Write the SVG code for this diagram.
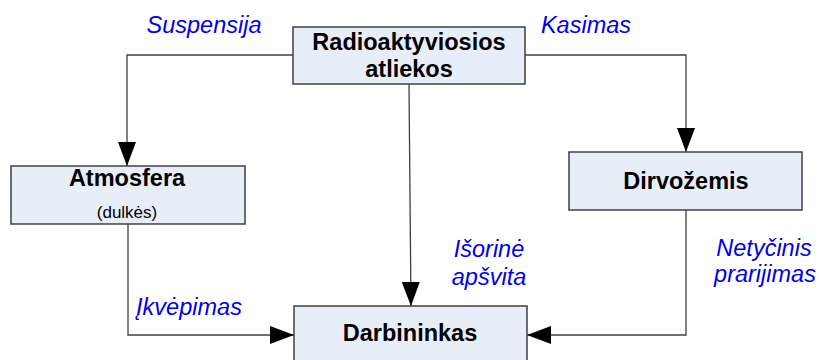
<svg xmlns="http://www.w3.org/2000/svg" width="819" height="360" viewBox="0 0 819 360">
<style>
.box{fill:#E8EEF8;stroke:#404040;stroke-width:1.5}
.t{font-family:"Liberation Sans",Arial,sans-serif;font-weight:bold;font-size:23.5px;fill:#000;text-anchor:middle}
.s{font-family:"Liberation Sans",Arial,sans-serif;font-size:17px;fill:#000;text-anchor:middle}
.l{font-family:"Liberation Sans",Arial,sans-serif;font-style:italic;font-size:23.5px;fill:#0000EE;text-anchor:middle}
.c{fill:none;stroke:#404040;stroke-width:1.3}
</style>
<defs>
<marker id="a" markerUnits="userSpaceOnUse" markerWidth="24" markerHeight="18" refX="24" refY="9" orient="auto">
<path d="M0,0 L24,9 L0,18 Z" fill="#000"/>
</marker>
</defs>
<rect width="819" height="360" fill="#fff"/>
<g id="connectors">
<path class="c" d="M293,55 H127 V166" marker-end="url(#a)"/>
<path class="c" d="M525,55 H686 V152" marker-end="url(#a)"/>
<path class="c" d="M409,84 L411,306" marker-end="url(#a)"/>
<path class="c" d="M128,224 V335 H294" marker-end="url(#a)"/>
<path class="c" d="M686,210 V335 H527" marker-end="url(#a)"/>
</g>
<g id="labels">
<text class="l" x="204" y="33">Suspensija</text>
<text class="l" x="586" y="33">Kasimas</text>
<text class="l" x="489" y="257">Išorinė</text>
<text class="l" x="489" y="285">apšvita</text>
<text class="l" x="189" y="315">Įkvėpimas</text>
<text class="l" x="764" y="256">Netyčinis</text>
<text class="l" x="765" y="282">prarijimas</text>
</g>
<g id="n1">
<rect class="box" x="293" y="27" width="232" height="57"/>
<text class="t" x="409" y="50">Radioaktyviosios</text>
<text class="t" x="409" y="77">atliekos</text>
</g>
<g id="n2">
<rect class="box" x="11" y="166" width="234" height="58"/>
<text class="t" x="127" y="186">Atmosfera</text>
<text class="s" x="127" y="218">(dulkės)</text>
</g>
<g id="n3">
<rect class="box" x="569" y="152" width="233" height="58"/>
<text class="t" x="686" y="189">Dirvožemis</text>
</g>
<g id="n4">
<rect class="box" x="294" y="306" width="233" height="60"/>
<text class="t" x="410" y="341">Darbininkas</text>
</g>
</svg>
